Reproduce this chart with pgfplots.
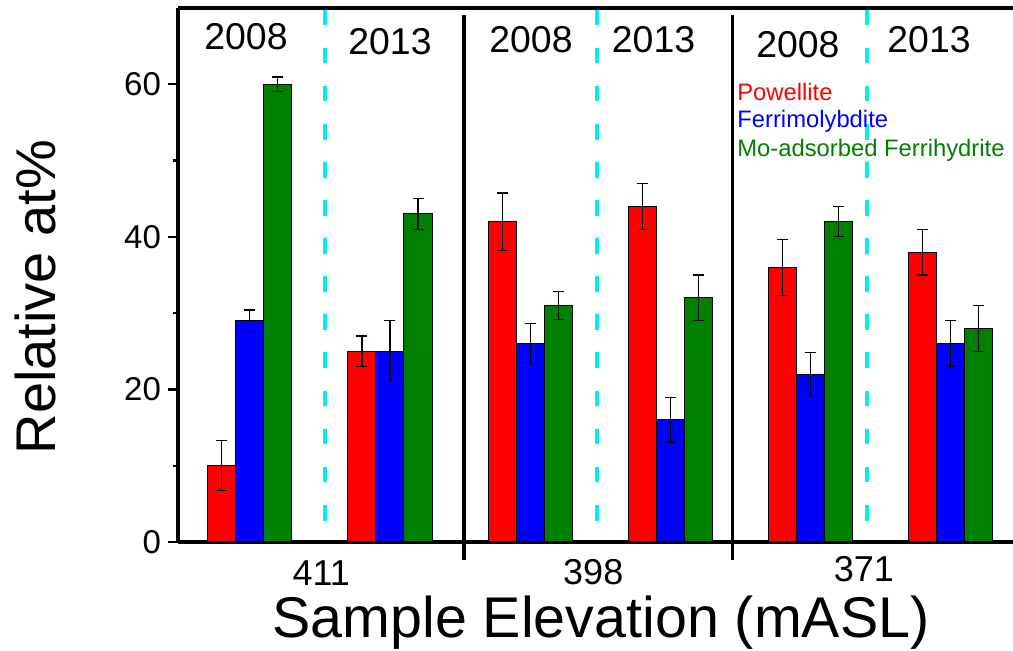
\documentclass[border=0pt]{standalone}
\usepackage{pgfplots}
\pgfplotsset{compat=1.18}
\usepackage{fontspec}
\setmainfont{Liberation Sans}
\definecolor{mygreen}{RGB}{0,128,0}
\definecolor{mycyan}{RGB}{0,240,240}
\tikzset{cyandash/.style={mycyan, line width=2pt, dash pattern=on 7.85pt off 11.2pt}}
\begin{document}
\begin{tikzpicture}
\path[use as bounding box] (-89pt,-54.5pt) rectangle (417.5pt,271pt);
\begin{axis}[
  scale only axis, width=417.5pt, height=267pt,
  xmin=-0.512, xmax=5.444, ymin=0, ymax=70,
  axis x line*=bottom, axis y line*=left,
  axis line style={line width=1.6pt,-},
  ytick={0,20,40,60}, minor ytick={10,30,50},
  tick align=outside, major tick length=5pt, minor tick length=2.5pt,
  tick style={line width=1.2pt,black},
  xtick=\empty, minor xtick={0,0.5,1,2,2.5,3,4,4.5,5},
  yticklabel style={font=\fontsize{16.5}{18}\selectfont},
  /pgf/number format/assume math mode=true,
  clip=false,
  mybar/.style={ybar, bar width=0.2, bar shift=0pt, draw=black, line width=0.5pt,
    error bars/y dir=both, error bars/y explicit,
    error bars/error bar style={line width=0.6pt,black},
    error bars/error mark options={rotate=90,black,mark size=2.75pt,line width=0.6pt}},
]
% Powellite
\addplot[mybar, fill=red] coordinates {
 (-0.2,10) +- (0,3.3)
 (0.8,25) +- (0,2.0)
 (1.8,42) +- (0,3.75)
 (2.8,44) +- (0,3.0)
 (3.8,36) +- (0,3.7)
 (4.8,38) +- (0,3.0)
};
% Ferrimolybdite
\addplot[mybar, fill=blue] coordinates {
 (0,29) +- (0,1.4)
 (1,25) +- (0,4.0)
 (2,26) +- (0,2.65)
 (3,16) +- (0,2.9)
 (4,22) +- (0,2.8)
 (5,26) +- (0,3.0)
};
% Mo-adsorbed Ferrihydrite
\addplot[mybar, fill=mygreen] coordinates {
 (0.2,60) +- (0,0.95)
 (1.2,43) +- (0,2.0)
 (2.2,31) +- (0,1.8)
 (3.2,32) +- (0,3.0)
 (4.2,42) +- (0,2.0)
 (5.2,28) +- (0,3.0)
};
% top axis line
\draw[line width=1.6pt] (rel axis cs:0,1) -- (rel axis cs:1,1);
% separators
\draw[line width=1.8pt] (axis cs:1.527,69.1) -- (axis cs:1.527,-2.4);
\draw[line width=1.8pt] (axis cs:3.442,69.1) -- (axis cs:3.442,-2.4);
% cyan dashed
\draw[cyandash] (axis cs:0.535,69.8) -- (axis cs:0.535,0.5);
\draw[cyandash] (axis cs:2.479,69.8) -- (axis cs:2.479,0.5);
\draw[cyandash] (axis cs:4.404,69.8) -- (axis cs:4.404,0.5);
% year labels
\node[font=\fontsize{18.7}{20}\selectfont, inner sep=0pt] at (axis cs:-0.027,66.2) {2008};
\node[font=\fontsize{18.7}{20}\selectfont, inner sep=0pt] at (axis cs:1.0,65.6) {2013};
\node[font=\fontsize{18.7}{20}\selectfont, inner sep=0pt] at (axis cs:2.006,65.8) {2008};
\node[font=\fontsize{18.7}{20}\selectfont, inner sep=0pt] at (axis cs:2.88,65.8) {2013};
\node[font=\fontsize{18.7}{20}\selectfont, inner sep=0pt] at (axis cs:3.91,65.2) {2008};
\node[font=\fontsize{18.7}{20}\selectfont, inner sep=0pt] at (axis cs:4.845,65.8) {2013};
% group labels
\node[font=\fontsize{18}{20}\selectfont, inner sep=0pt] at (axis cs:0.51,-4.1) {411};
\node[font=\fontsize{18}{20}\selectfont, inner sep=0pt] at (axis cs:2.45,-3.9) {398};
\node[font=\fontsize{18}{20}\selectfont, inner sep=0pt] at (axis cs:4.38,-3.5) {371};
% legend text
\node[font=\fontsize{11.9}{13}\selectfont, inner sep=0pt, anchor=west, text=red] at (axis cs:3.475,59.0) {Powellite};
\node[font=\fontsize{11.9}{13}\selectfont, inner sep=0pt, anchor=west, text=blue] at (axis cs:3.475,55.2) {Ferrimolybdite};
\node[font=\fontsize{11.9}{13}\selectfont, inner sep=0pt, anchor=west, text=mygreen] at (axis cs:3.475,51.3) {Mo-adsorbed Ferrihydrite};
% axis titles
\node[font=\fontsize{28.7}{30}\selectfont, inner sep=0pt] at (axis cs:2.505,-10.6) {Sample Elevation (mASL)};
\node[font=\fontsize{28}{30}\selectfont, inner sep=0pt, rotate=90] at (axis cs:-1.525,32.1) {Relative at\%};
\end{axis}
\end{tikzpicture}
\end{document}
